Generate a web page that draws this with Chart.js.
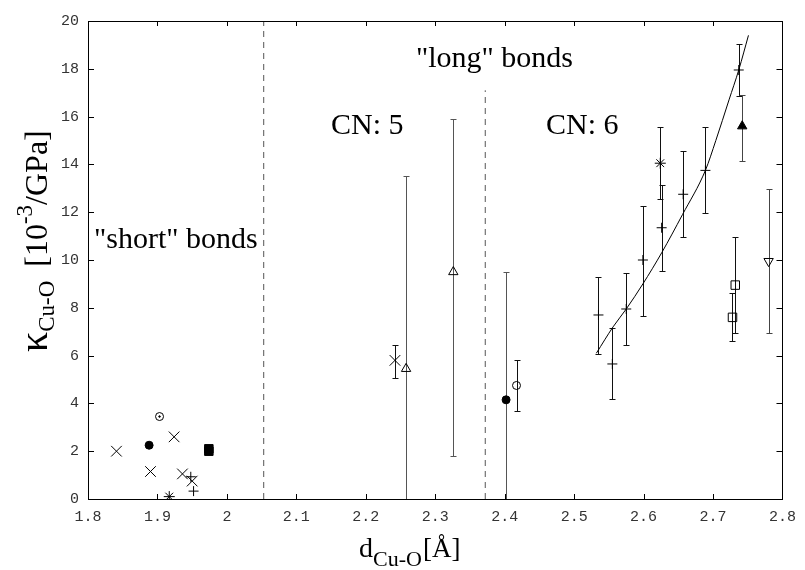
<!DOCTYPE html>
<html>
<head>
<meta charset="utf-8">
<script src="https://cdn.jsdelivr.net/npm/chart.js@4/dist/chart.umd.min.js"></script>
<style>
html, body { margin: 0; background: #fff; }
#wrap { width: 805px; height: 570px; }
</style>
</head>
<body>
<div id="wrap"><canvas id="chart"></canvas></div>
<script>
// d(Cu-O) in Angstrom, kappa in 10^-3/GPa, lo/hi = ends of the error bar (null = none)
const crossD  = [1.841, 1.890, 1.924, 1.936, 1.950, 2.242];
const crossK  = [2.0, 1.15, 2.6, 1.05, 0.75, 5.8];
const crossLo = [null, null, null, null, null, 5.05];
const crossHi = [null, null, null, null, null, 6.45];

const plusD  = [1.948, 1.952, 2.535, 2.555, 2.575, 2.599, 2.626, 2.657, 2.689, 2.737];
const plusK  = [0.93, 0.33, 7.7, 5.65, 7.95, 10.0, 11.35, 12.75, 13.75, 17.95];
const plusLo = [null, null, 6.05, 4.2, 6.45, 7.65, 9.55, 10.95, 11.95, 16.85];
const plusHi = [null, null, 9.3, 7.15, 9.45, 12.25, 13.15, 14.55, 15.55, 19.05];

const starD  = [1.917, 2.624];
const starK  = [0.1, 14.05];
const starLo = [null, 12.55];
const starHi = [null, 15.55];

const dotD  = [1.888, 2.402];
const dotK  = [2.25, 4.15];
const dotLo = [null, 0];
const dotHi = [null, 9.5];

const ringD  = [1.903, 2.417];
const ringK  = [3.45, 4.75];
const ringLo = [null, 3.7];
const ringHi = [null, 5.8];

const blockD = [1.974, 1.974];
const blockK = [2.0, 2.1];

const boxD  = [2.732, 2.728];
const boxK  = [8.95, 7.6];
const boxLo = [6.95, 6.6];
const boxHi = [10.95, 8.6];

const triD  = [2.258, 2.326];
const triK  = [5.45, 9.5];
const triLo = [0, 1.8];
const triHi = [13.5, 15.9];

const triUpD  = [2.742];
const triUpK  = [15.6];
const triUpLo = [14.15];
const triUpHi = [16.9];

const triDownD  = [2.780];
const triDownK  = [9.95];
const triDownLo = [6.95];
const triDownHi = [12.95];

// fitted curve
const fitD = [2.532, 2.556, 2.575, 2.599, 2.626, 2.656, 2.689, 2.704, 2.723, 2.737, 2.751];
const fitK = [6.1, 7.2, 7.95, 9.0, 10.3, 11.9, 13.75, 15.0, 16.7, 17.95, 19.4];

// dashed separators
const splitD   = [2.053, 2.372];
const splitTop = [20, 17.1];

function pts(d, k, lo, hi) {
  return d.map((v, i) => ({
    x: v, y: k[i],
    lo: lo ? lo[i] : null,
    hi: hi ? hi[i] : null
  }));
}

function marks(data, style, radius, fill, extra) {
  return Object.assign({
    type: 'scatter',
    data: data,
    pointStyle: style,
    pointRadius: radius,
    pointHoverRadius: radius,
    pointBorderColor: '#000',
    pointBackgroundColor: fill,
    pointBorderWidth: 1,
    bars: true
  }, extra || {});
}

const errorBars = {
  id: 'errorBars',
  beforeDatasetsDraw(chart) {
    const { ctx, chartArea: a, scales: { x, y } } = chart;
    ctx.save();
    ctx.beginPath();
    ctx.rect(a.left, a.top, a.width, a.height);
    ctx.clip();
    ctx.lineWidth = 1;
    chart.data.datasets.forEach(ds => {
      if (!ds.bars) return;
      ctx.strokeStyle = ds.barColor || '#111';
      ds.data.forEach(p => {
        if (p.lo == null) return;
        const px = Math.round(x.getPixelForValue(p.x)) + 0.5;
        const y1 = Math.round(y.getPixelForValue(p.lo)) + 0.5;
        const y2 = Math.round(y.getPixelForValue(p.hi)) + 0.5;
        ctx.beginPath();
        ctx.moveTo(px, y1); ctx.lineTo(px, y2);
        ctx.moveTo(px - 3, y1); ctx.lineTo(px + 3, y1);
        ctx.moveTo(px - 3, y2); ctx.lineTo(px + 3, y2);
        ctx.stroke();
      });
    });
    ctx.restore();
  }
};

const frame = {
  id: 'frame',
  afterDraw(chart) {
    const { ctx, chartArea: a, scales: { x, y } } = chart;
    ctx.save();
    ctx.strokeStyle = '#000';
    ctx.lineWidth = 1;
    ctx.beginPath();
    x.ticks.forEach(t => {
      const px = Math.round(x.getPixelForValue(t.value)) + 0.5;
      ctx.moveTo(px, a.bottom); ctx.lineTo(px, a.bottom - 5);
      ctx.moveTo(px, a.top); ctx.lineTo(px, a.top + 5);
    });
    y.ticks.forEach(t => {
      const py = Math.round(y.getPixelForValue(t.value)) + 0.5;
      ctx.moveTo(a.left, py); ctx.lineTo(a.left + 6, py);
      ctx.moveTo(a.right, py); ctx.lineTo(a.right - 6, py);
    });
    ctx.stroke();
    ctx.strokeRect(Math.round(a.left) + 0.5, Math.round(a.top) + 0.5,
                   Math.round(a.width), Math.round(a.height));

    // annotations
    ctx.fillStyle = '#000';
    ctx.textBaseline = 'alphabetic';
    ctx.font = '30px "Liberation Serif"';
    ctx.fillText('"short" bonds', 94, 248);
    ctx.fillText('"long" bonds', 416, 67);
    ctx.fillText('CN: 5', 331, 134);
    ctx.fillText('CN: 6', 546, 134);

    // x axis title: d_Cu-O [Å]
    let cx = 359;
    ctx.font = '28px "Liberation Serif"';
    ctx.fillText('d', cx, 557);
    cx += ctx.measureText('d').width;
    ctx.font = '22px "Liberation Serif"';
    ctx.fillText('Cu-O', cx, 566);
    cx += ctx.measureText('Cu-O').width + 1;
    ctx.font = '27px "Liberation Serif"';
    ctx.fillText('[Å]', cx, 557);

    // y axis title: kappa_Cu-O [10^-3/GPa]
    ctx.translate(47, 352);
    ctx.rotate(-Math.PI / 2);
    let tx = 0;
    ctx.font = '40px "Liberation Serif"';
    ctx.fillText('κ', tx, 0);
    tx += ctx.measureText('κ').width;
    ctx.font = '23px "Liberation Serif"';
    ctx.fillText('Cu-O', tx, 7);
    tx += ctx.measureText('Cu-O').width + 14;
    ctx.font = '32px "Liberation Serif"';
    ctx.fillText('[10', tx, 0);
    tx += ctx.measureText('[10').width;
    ctx.font = '23px "Liberation Serif"';
    ctx.fillText('-3', tx, -15);
    tx += ctx.measureText('-3').width;
    ctx.font = '32px "Liberation Serif"';
    ctx.fillText('/GPa]', tx, 0);
    ctx.restore();
  }
};

const tickFont = { family: '"Liberation Mono"', size: 15 };

new Chart(document.getElementById('chart'), {
  type: 'scatter',
  data: {
    datasets: [
      {
        type: 'line',
        data: fitD.map((v, i) => ({ x: v, y: fitK[i] })),
        borderColor: '#000',
        borderWidth: 1,
        pointRadius: 0,
        cubicInterpolationMode: 'monotone',
        fill: false
      },
      {
        type: 'line',
        data: [{ x: splitD[0], y: 0 }, { x: splitD[0], y: splitTop[0] }],
        borderColor: '#555',
        borderWidth: 1,
        borderDash: [6, 5],
        pointRadius: 0
      },
      {
        type: 'line',
        data: [{ x: splitD[1], y: 0 }, { x: splitD[1], y: splitTop[1] }],
        borderColor: '#555',
        borderWidth: 1,
        borderDash: [6, 5],
        pointRadius: 0
      },
      marks(pts(crossD, crossK, crossLo, crossHi), 'crossRot', 7.5, '#000'),
      marks(pts(plusD, plusK, plusLo, plusHi), 'cross', 5, '#000'),
      marks(pts(starD, starK, starLo, starHi), 'star', 5.5, '#000'),
      marks(pts(dotD, dotK, dotLo, dotHi), 'circle', 4, '#000', { barColor: '#555' }),
      marks(pts(ringD, ringK, ringLo, ringHi), 'circle', 4, 'rgba(0,0,0,0)'),
      marks([{ x: ringD[0], y: ringK[0] }], 'circle', 0.8, '#000', { bars: false }),
      marks(pts(blockD, blockK), 'rect', 6, '#000'),
      marks(pts(boxD, boxK, boxLo, boxHi), 'rect', 6, 'rgba(0,0,0,0)'),
      marks(pts(triD, triK, triLo, triHi), 'triangle', 5.4, 'rgba(0,0,0,0)', { barColor: '#555' }),
      marks(pts(triUpD, triUpK, triUpLo, triUpHi), 'triangle', 5.4, '#000', { barColor: '#444' }),
      marks(pts(triDownD, triDownK, triDownLo, triDownHi), 'triangle', 5.4, 'rgba(0,0,0,0)',
            { pointRotation: 180, barColor: '#444' })
    ]
  },
  options: {
    animation: false,
    responsive: true,
    maintainAspectRatio: false,
    layout: { padding: { top: 21, right: 18, left: 0, bottom: 0 } },
    plugins: { legend: { display: false }, tooltip: { enabled: false } },
    scales: {
      x: {
        type: 'linear',
        min: 1.8,
        max: 2.8,
        grid: { display: false, drawTicks: false },
        border: { display: false },
        ticks: {
          stepSize: 0.1,
          padding: 9,
          color: '#333',
          font: tickFont,
          maxRotation: 0,
          callback: v => String(Number(v.toFixed(1)))
        },
        afterFit: s => { s.height = 71; }
      },
      y: {
        min: 0,
        max: 20,
        grid: { display: false, drawTicks: false },
        border: { display: false },
        ticks: { stepSize: 2, padding: 9, color: '#333', font: tickFont },
        afterFit: s => { s.width = 88; }
      }
    }
  },
  plugins: [errorBars, frame]
});
</script>
</body>
</html>
